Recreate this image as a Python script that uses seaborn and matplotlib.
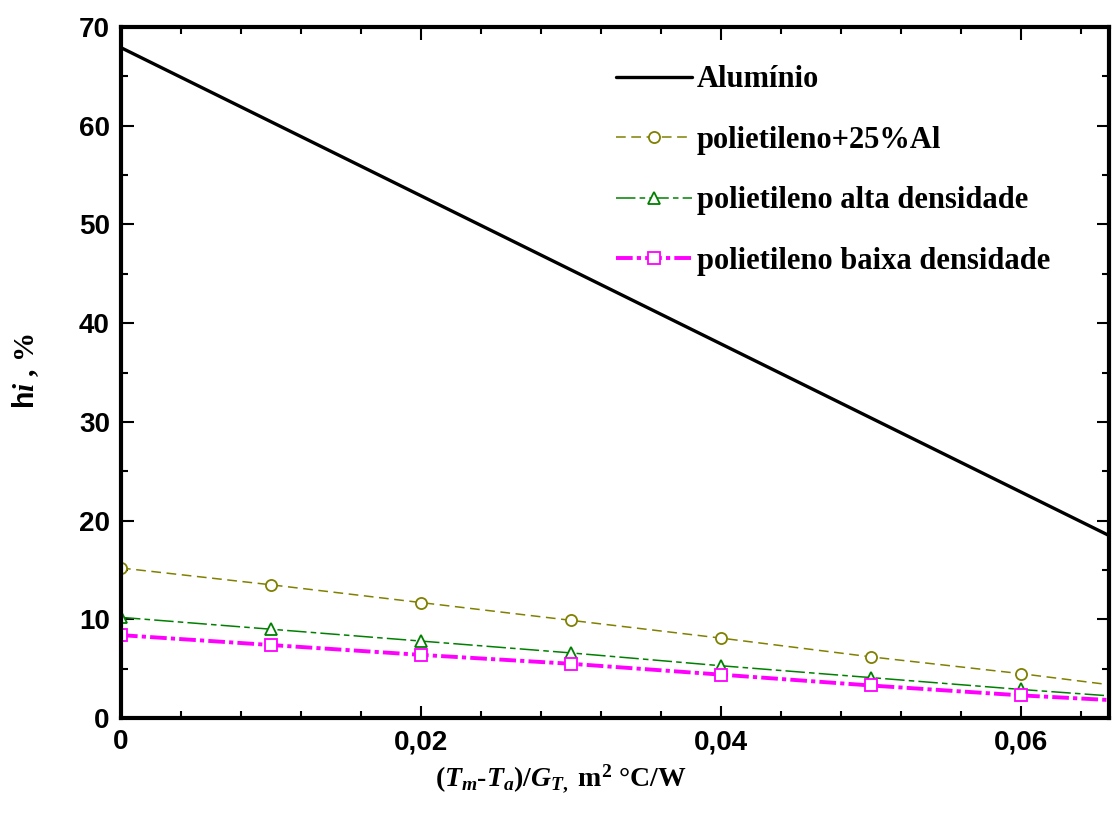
import numpy as np
import pandas as pd
import seaborn as sns
import matplotlib
matplotlib.use("Agg")
import matplotlib.pyplot as plt
from matplotlib.ticker import MultipleLocator, FuncFormatter

# ---- data ----
x_vals = [0.0, 0.01, 0.02, 0.03, 0.04, 0.05, 0.06, 0.07]
aluminio = [67.9, 60.4, 52.9, 45.4, 37.9, 30.4, 22.9, 15.4]
poli_25al = [15.2, 13.5, 11.7, 9.9, 8.1, 6.2, 4.5, 2.6]
poli_alta = [10.2, 9.0, 7.8, 6.6, 5.3, 4.1, 2.9, 1.8]
poli_baixa = [8.4, 7.4, 6.4, 5.5, 4.4, 3.3, 2.3, 1.5]
labels = ["Alumínio", "polietileno+25%Al", "polietileno alta densidade",
          "polietileno baixa densidade"]
x_ticks = [0, 0.02, 0.04, 0.06]
y_ticks = [0, 10, 20, 30, 40, 50, 60, 70]

sns.set_theme(style="white")
plt.rcParams["font.family"] = ["Liberation Sans", "DejaVu Sans"]
plt.rcParams["mathtext.fontset"] = "custom"
plt.rcParams["mathtext.rm"] = "Liberation Serif:bold"
plt.rcParams["mathtext.it"] = "Liberation Serif:bold:italic"
plt.rcParams["mathtext.bf"] = "Liberation Serif:bold"
plt.rcParams["mathtext.tt"] = "Liberation Mono:bold"
plt.rcParams["lines.scale_dashes"] = False
for k in ["text.color", "axes.labelcolor", "xtick.color", "ytick.color"]:
    plt.rcParams[k] = "black"

df = pd.DataFrame({"x": x_vals, "Al": aluminio, "p25": poli_25al,
                   "alta": poli_alta, "baixa": poli_baixa})

fig = plt.figure(figsize=(11.13, 8.16), dpi=100)
ax = fig.add_axes([0.1087, 0.12, 0.888, 0.847])

sns.lineplot(data=df, x="x", y="Al", ax=ax, color="black", lw=2.4,
             label=labels[0])
sns.lineplot(data=df, x="x", y="p25", ax=ax, color="#808000", lw=1.1,
             linestyle=(0, (7, 4)), marker="o", markersize=8,
             markerfacecolor="white", markeredgecolor="#808000",
             markeredgewidth=1.3, label=labels[1])
sns.lineplot(data=df, x="x", y="alta", ax=ax, color="#008000", lw=1.1,
             linestyle=(0, (14, 3, 4, 3)), marker="^", markersize=9,
             markerfacecolor="white", markeredgecolor="#008000",
             markeredgewidth=1.3, label=labels[2])
sns.lineplot(data=df, x="x", y="baixa", ax=ax, color="#ff00ff", lw=2.8,
             linestyle=(0, (12, 3, 3, 3)), marker="s", markersize=9,
             markerfacecolor="white", markeredgecolor="#ff00ff",
             markeredgewidth=1.3, label=labels[3])

ax.set_xlim(0, 0.0659)
ax.set_ylim(0, 70)
ax.set_xticks(x_ticks)
ax.set_yticks(y_ticks)
ax.xaxis.set_minor_locator(MultipleLocator(0.004))
ax.yaxis.set_minor_locator(MultipleLocator(5))
ax.xaxis.set_major_formatter(FuncFormatter(
    lambda v, p: "0" if abs(v) < 1e-12 else f"{v:.2f}".replace(".", ",")))
ax.tick_params(which="both", direction="in", top=True, right=True,
               bottom=True, left=True, width=1.5, color="black")
ax.tick_params(which="major", length=9, labelsize=20, pad=8)
ax.tick_params(which="minor", length=5)
for lab in ax.get_xticklabels() + ax.get_yticklabels():
    lab.set_fontweight("bold")
for sp in ax.spines.values():
    sp.set_linewidth(3)
    sp.set_color("black")

ax.set_xlabel(r"$\mathit{(T_m}$-$\mathit{T_a)/G_{T,}}$ m$^2$ °C/W",
              fontsize=20, fontfamily="Liberation Serif", fontweight="bold")
ax.xaxis.set_label_coords(0.445, -0.065)
ax.set_ylabel(r"$\mathtt{h}\mathit{i}$ $\mathit{,}$ %", fontsize=21,
              fontfamily="Liberation Serif", fontweight="bold")
ax.yaxis.set_label_coords(-0.081, 0.502)

leg = ax.legend(loc="upper left", frameon=False, handlelength=2.5,
                handletextpad=0.15, labelspacing=1.03,
                prop={"family": "Liberation Serif", "weight": "bold",
                      "size": 22},
                bbox_to_anchor=(0.4728, 0.984))

fig.savefig("out.png", dpi=100)
